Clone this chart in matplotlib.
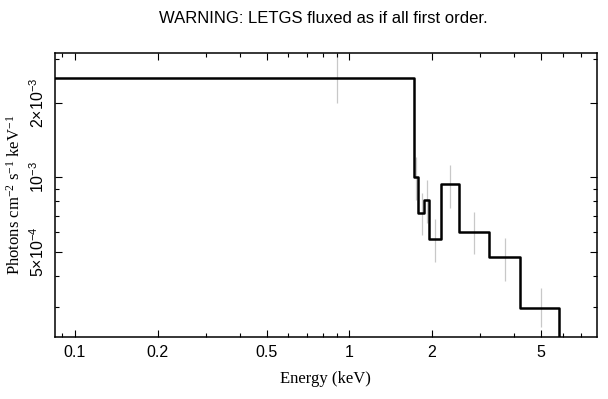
import numpy as np
import matplotlib
matplotlib.use("Agg")
import matplotlib.pyplot as plt
from matplotlib.ticker import FixedLocator, NullFormatter

plt.rcParams["mathtext.default"] = "regular"
plt.rcParams["font.family"] = ["Liberation Sans", "DejaVu Sans"]

# bin edges (keV) and flux levels (photons/cm2/s/keV)
edges = [0.08, 1.72, 1.785, 1.873, 1.957, 2.154, 2.506, 3.223, 4.19, 5.83]
flux = [2.51e-3, 1.006e-3, 7.19e-4, 8.1e-4, 5.65e-4, 9.37e-4, 6.03e-4, 4.76e-4, 2.96e-4]

# error bars (grey)
err_e = [0.904, 1.75, 1.836, 1.925, 2.06, 2.33, 2.857, 3.7, 5.0]
err_lo = [2.0e-3, 8.1e-4, 5.85e-4, 6.54e-4, 4.55e-4, 7.54e-4, 4.90e-4, 3.82e-4, 2.48e-4]
err_hi = [3.15e-3, 1.21e-3, 8.64e-4, 9.75e-4, 6.78e-4, 1.12e-3, 7.24e-4, 5.70e-4, 3.57e-4]

xticks = [0.1, 0.2, 0.5, 1, 2, 5]
xticklabels = ["0.1", "0.2", "0.5", "1", "2", "5"]
xminor = [0.09, 0.3, 0.4, 0.6, 0.7, 0.8, 0.9, 3, 4, 6, 7, 8]
yticks = [5e-4, 1e-3, 2e-3]
yticklabels = [r"5$\times$10$^{-4}$", r"10$^{-3}$", r"2$\times$10$^{-3}$"]
yminor = [3e-4, 4e-4, 6e-4, 7e-4, 8e-4, 9e-4, 3e-3]

fig = plt.figure(figsize=(6.08, 3.99), dpi=100)
ax = fig.add_axes([0.0905, 0.1554, 0.891, 0.711])

ax.vlines(err_e, err_lo, err_hi, color="#c8c8c8", lw=0.9, zorder=1)

# step histogram
xs = [edges[0]]
ys = [flux[0]]
for i in range(len(flux)):
    xs += [edges[i], edges[i + 1]]
    ys += [flux[i], flux[i]]
xs.append(edges[-1])
ys.append(1e-4)
ax.plot(xs, ys, color="black", lw=1.8, zorder=2)

ax.set_xscale("log")
ax.set_yscale("log")
ax.set_xlim(0.0846, 7.98)
ax.set_ylim(2.26e-4, 3.17e-3)

ax.xaxis.set_major_locator(FixedLocator(xticks))
ax.set_xticklabels(xticklabels)
ax.xaxis.set_minor_locator(FixedLocator(xminor))
ax.xaxis.set_minor_formatter(NullFormatter())
ax.yaxis.set_major_locator(FixedLocator(yticks))
ax.set_yticklabels(yticklabels, rotation=90, va="center")
ax.yaxis.set_minor_locator(FixedLocator(yminor))
ax.yaxis.set_minor_formatter(NullFormatter())

ax.tick_params(which="both", direction="in", top=True, right=True, width=0.8, labelsize=11.5)
ax.tick_params(which="major", length=5, pad=6)
ax.tick_params(which="minor", length=3)
for s in ax.spines.values():
    s.set_linewidth(1.1)

ax.set_xlabel("Energy (keV)", family="Liberation Serif", fontsize=12, labelpad=8)
ax.set_ylabel(r"Photons cm$^{-2}$ s$^{-1}$ keV$^{-1}$", family="Liberation Serif", fontsize=12, labelpad=3)
fig.text(0.532, 0.953, "WARNING: LETGS fluxed as if all first order.", ha="center", va="center", fontsize=12)

fig.savefig("out.png", dpi=100)
